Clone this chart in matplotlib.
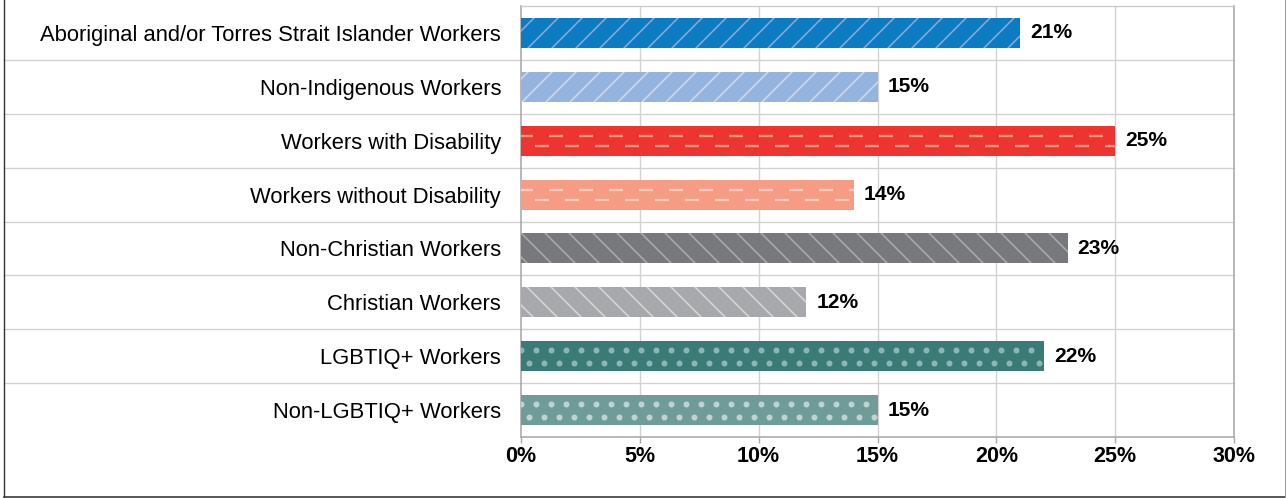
import numpy as np
import matplotlib
matplotlib.use("Agg")
import matplotlib.pyplot as plt
from matplotlib.lines import Line2D

# Share of workers in each group (%)
categories = [
    "Aboriginal and/or Torres Strait Islander Workers",
    "Non-Indigenous Workers",
    "Workers with Disability",
    "Workers without Disability",
    "Non-Christian Workers",
    "Christian Workers",
    "LGBTIQ+ Workers",
    "Non-LGBTIQ+ Workers",
]
values = [21, 15, 25, 14, 23, 12, 22, 15]
x_ticks = [0, 5, 10, 15, 20, 25, 30]
x_tick_labels = ["0%", "5%", "10%", "15%", "20%", "25%", "30%"]

# Fill colour, pattern colour and pattern kind for each bar
fills = ["#0B7CC1", "#94B3DF", "#EE3430", "#F69C84",
         "#77787B", "#A7A8AB", "#3B7B77", "#6F9B98"]
accents = ["#7FA8DB", "#C9D8EF", "#F59C86", "#FCCDBE",
           "#A6A7AA", "#D3D4D6", "#8DB5B1", "#BFD4D1"]
patterns = ["/", "/", "dash", "dash", "\\", "\\", "dot", "dot"]

plt.rcParams["font.family"] = ["Liberation Sans", "DejaVu Sans"]
plt.rcParams["hatch.linewidth"] = 1.7
plt.rcParams["lines.scale_dashes"] = False

W, H, DPI = 1286, 498, 72
fig = plt.figure(figsize=(W / DPI, H / DPI), dpi=DPI)
ax_l, ax_r, ax_t, ax_b = 521, 1234, 6, 437
ax = fig.add_axes([ax_l / W, 1 - ax_b / H, (ax_r - ax_l) / W, (ax_b - ax_t) / H])

xmax = 30
n = len(categories)
ax.set_xlim(0, xmax)
ax.set_ylim(n - 0.5, -0.5)
xpp = xmax / (ax_r - ax_l)      # data units per pixel, x
ypp = n / (ax_b - ax_t)         # data units per pixel, y

grid_c = "#D2D2D2"
ypos = np.arange(n)
bar_h = 0.555

for i, (v, fc, ac, pat) in enumerate(zip(values, fills, accents, patterns)):
    hatch = pat if pat in ("/", "\\") else None
    bar = ax.barh(i, v, height=bar_h, color=fc, edgecolor=ac if hatch else fc,
                  linewidth=0, hatch=hatch, zorder=3)[0]
    if pat == "dash":
        for dy, off in ((-5, 2), (5, 16)):
            ln, = ax.plot([0, v], [i + dy * ypp] * 2, color=ac, lw=2.3,
                          linestyle=(off, (14, 16)), solid_capstyle="butt",
                          dash_capstyle="butt", zorder=4)
            ln.set_clip_path(bar)
    elif pat == "dot":
        step = 15 * xpp
        for dy, start in ((-6.5, 0.0), (6.5, step / 2)):
            xs = np.arange(start, v, step)
            ln, = ax.plot(xs, np.full(xs.shape, i + dy * ypp), "o", ms=6,
                          mfc=ac, mec="none", zorder=4)
            ln.set_clip_path(bar)
    ax.annotate(f"{v}%", (v, i), xytext=(10, 0), textcoords="offset points",
                ha="left", va="center", fontsize=21, fontweight="bold",
                color="#000000", zorder=5)

# Vertical grid
for t in x_ticks[1:-1]:
    ax.axvline(t, color=grid_c, lw=1.4, zorder=1)

# Row separators, running left under the category labels
x_left = (4 - ax_l) / (ax_r - ax_l)
for k in range(1, n):
    ax.axhline(k - 0.5, xmin=x_left, xmax=1, color=grid_c, lw=1.4,
               clip_on=False, zorder=1)

ax.set_yticks(ypos, categories)
ax.tick_params(axis="y", length=0, pad=20, labelsize=22, labelcolor="#000000")
ax.set_xticks(x_ticks, x_tick_labels)
ax.tick_params(axis="x", length=6, width=1.4, color="#A8A8A8", pad=3,
               labelsize=21.5, labelcolor="#000000")
for lab in ax.get_xticklabels():
    lab.set_fontweight("bold")

for side in ("left", "bottom", "right"):
    ax.spines[side].set_color("#A8A8A8")
    ax.spines[side].set_linewidth(1.6)
ax.spines["top"].set_color("#C8C8C8")
ax.spines["top"].set_linewidth(1.3)

# Outer frame
fig.add_artist(Line2D([3.5 / W, 3.5 / W], [1.01, 1.5 / H], transform=fig.transFigure,
                      color="#333333", lw=1.4))
fig.add_artist(Line2D([3.5 / W, 1 - 1.5 / W], [1.5 / H, 1.5 / H], transform=fig.transFigure,
                      color="#333333", lw=1.6))
fig.add_artist(Line2D([1 - 1.5 / W, 1 - 1.5 / W], [1.01, 1.5 / H], transform=fig.transFigure,
                      color="#9A9A9A", lw=1.0))

fig.savefig("out.png", dpi=DPI)
